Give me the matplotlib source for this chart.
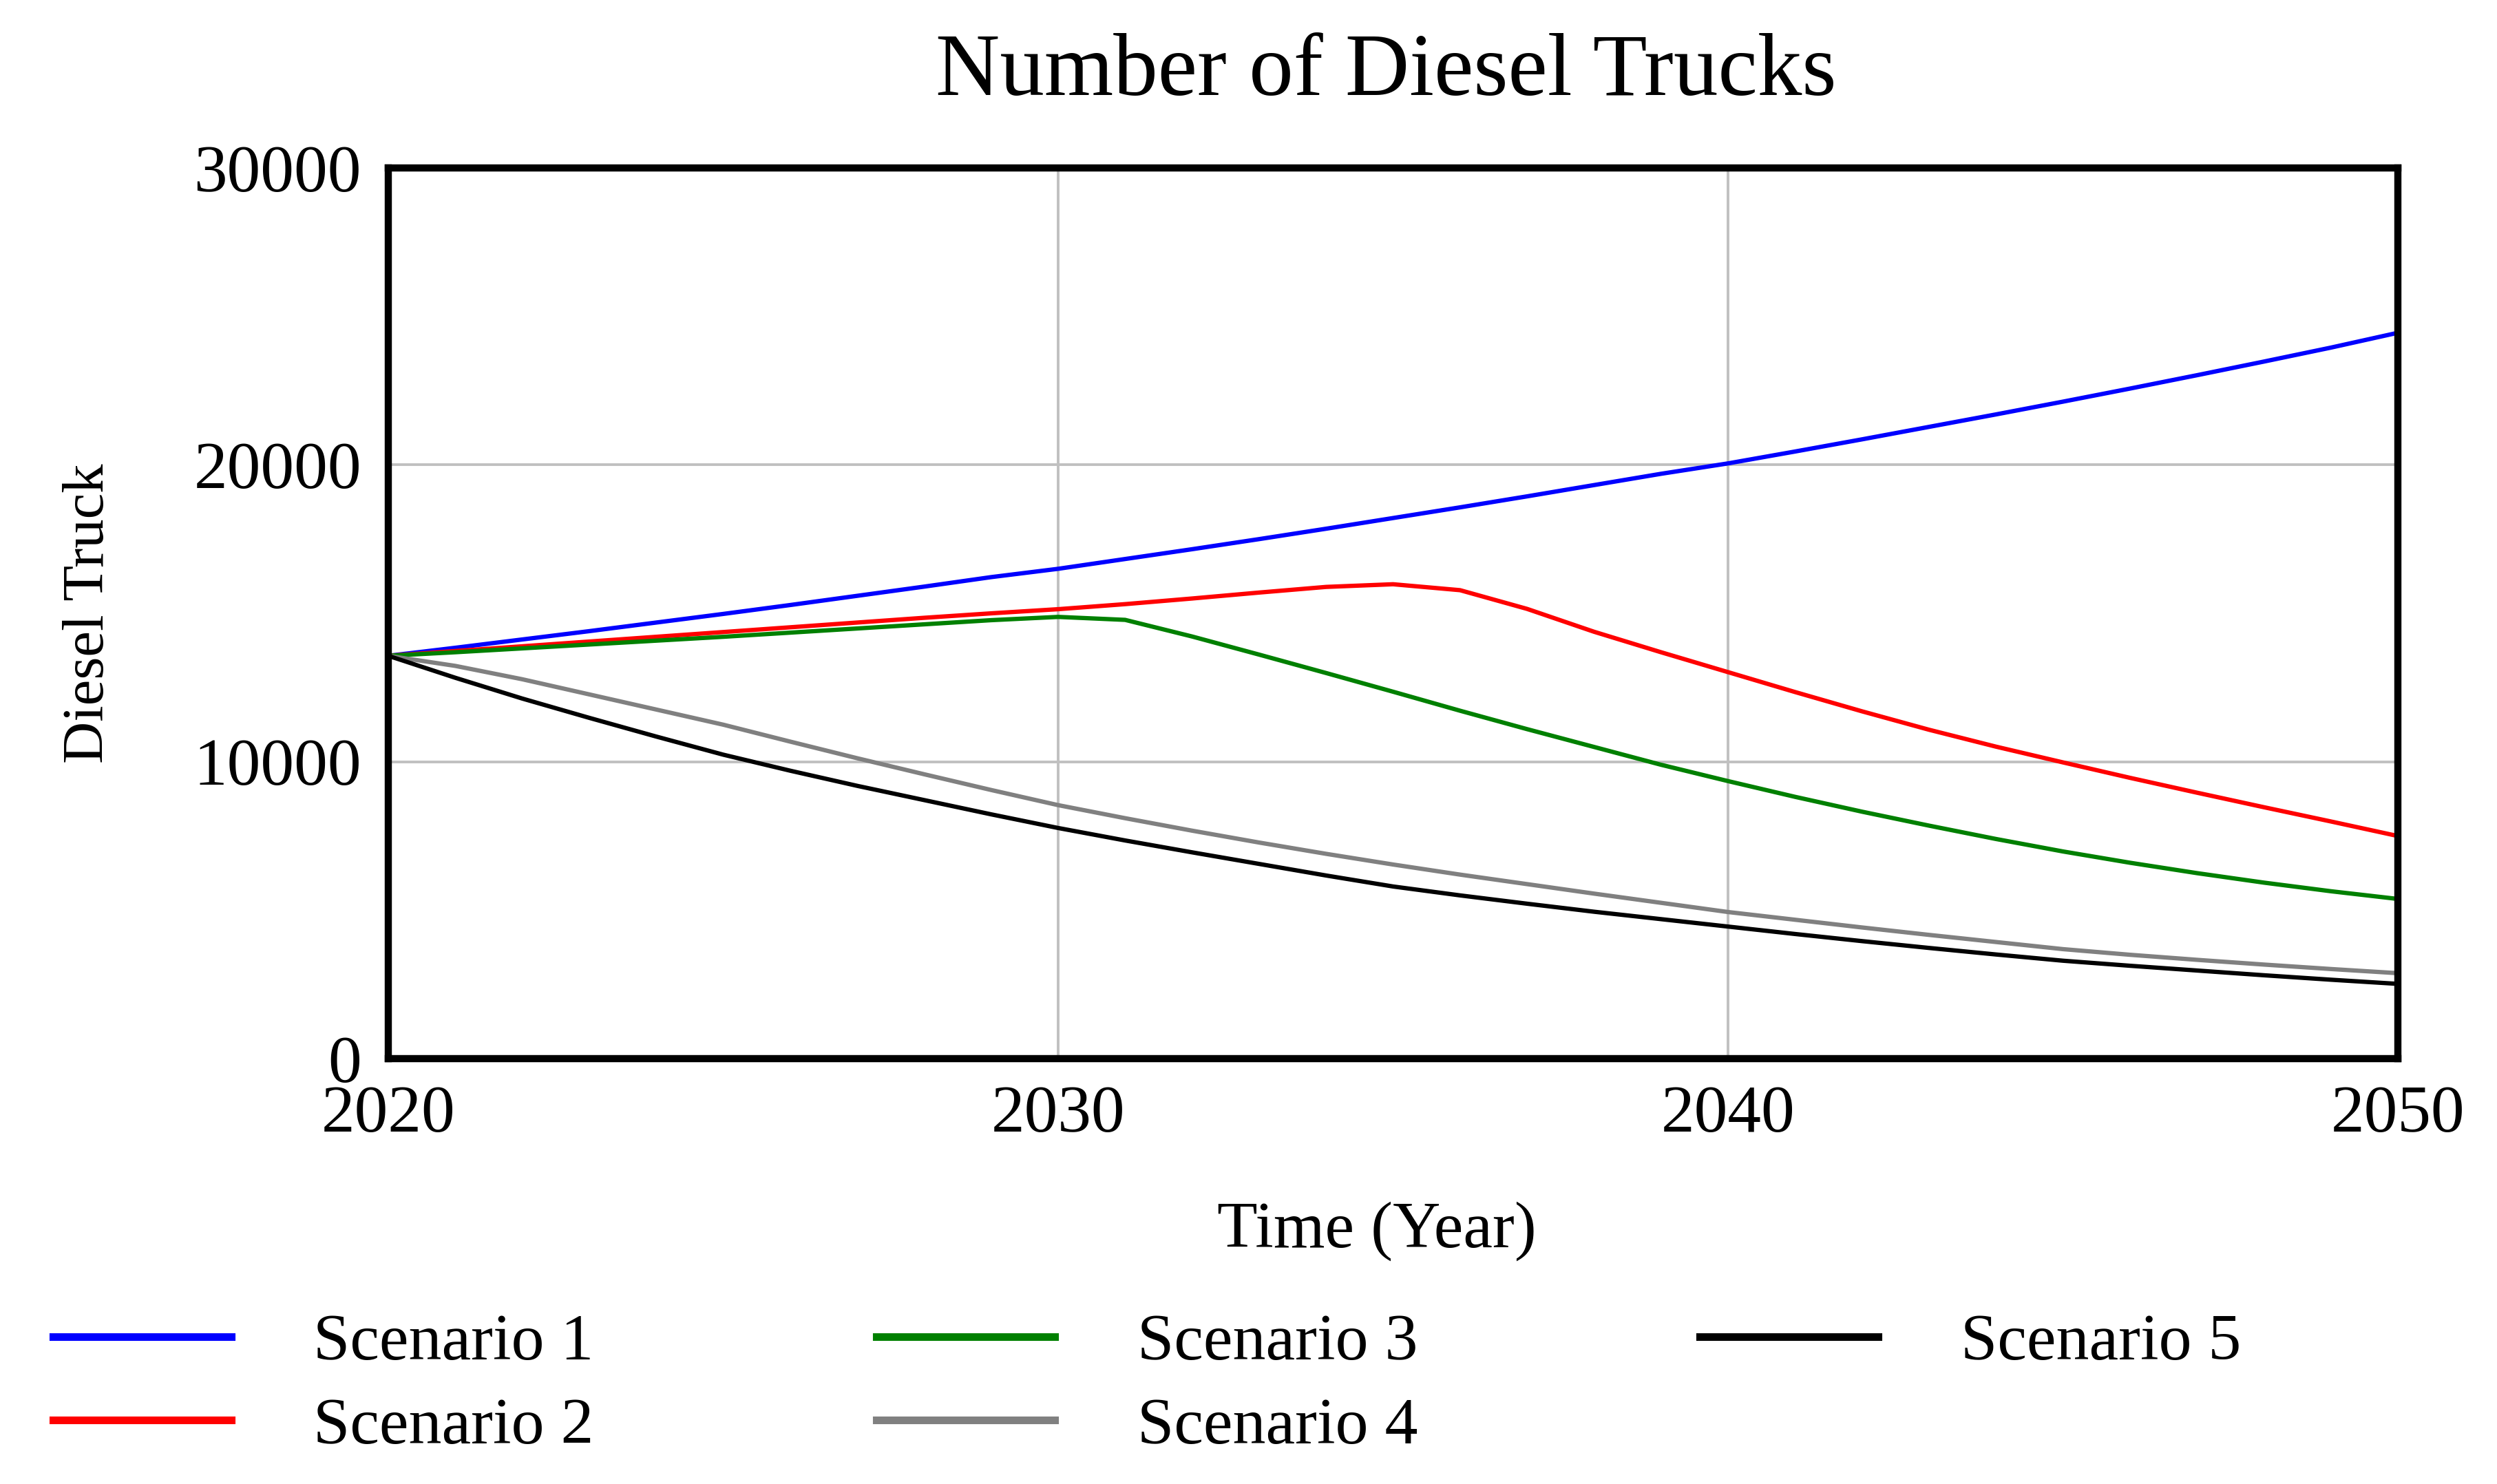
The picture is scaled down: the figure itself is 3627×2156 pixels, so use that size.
import matplotlib
matplotlib.use("Agg")
import matplotlib.pyplot as plt

plt.rcParams['font.family'] = ['Liberation Serif', 'DejaVu Serif']

years = list(range(2020, 2051))

# values (trucks)
scenario_1 = [13570, 13840, 14120, 14400, 14690, 14980, 15280, 15590, 15900, 16220,
              16500, 16830, 17160, 17500, 17850, 18210, 18570, 18940, 19320, 19700,
              20050, 20450, 20860, 21280, 21700, 22130, 22570, 23020, 23480, 23950,
              24450]
scenario_2 = [13570, 13730, 13890, 14050, 14210, 14370, 14530, 14690, 14850, 15000,
              15140, 15310, 15500, 15700, 15890, 15980, 15780, 15150, 14380, 13690,
              13020, 12350, 11700, 11080, 10510, 9980, 9460, 8960, 8470, 7990,
              7500]
scenario_3 = [13570, 13690, 13820, 13950, 14080, 14210, 14350, 14490, 14630, 14770,
              14880, 14780, 14220, 13610, 12990, 12360, 11720, 11100, 10500, 9900,
              9350, 8820, 8320, 7850, 7400, 6980, 6600, 6250, 5930, 5640,
              5380]
scenario_4 = [13570, 13230, 12780, 12270, 11760, 11250, 10680, 10120, 9580, 9050,
              8540, 8100, 7680, 7280, 6900, 6540, 6200, 5880, 5560, 5250,
              4940, 4680, 4420, 4170, 3930, 3690, 3500, 3330, 3170, 3020,
              2880]
scenario_5 = [13570, 12830, 12130, 11480, 10850, 10240, 9700, 9190, 8710, 8230,
              7770, 7350, 6950, 6560, 6170, 5800, 5500, 5220, 4950, 4700,
              4450, 4200, 3960, 3730, 3510, 3300, 3130, 2970, 2810, 2660,
              2520]

labels = ['Scenario 1', 'Scenario 2', 'Scenario 3', 'Scenario 4', 'Scenario 5']
colors = ['#0000ff', '#ff0000', '#008000', '#808080', '#000000']
series = [scenario_1, scenario_2, scenario_3, scenario_4, scenario_5]

x_ticks = [2020, 2030, 2040, 2050]
y_ticks = [0, 10000, 20000, 30000]

fig = plt.figure(figsize=(36.27, 21.56), dpi=100)
ax = fig.add_axes([0.1555, 0.2866, 0.8048, 0.6002])

for vals, lab, col in zip(series, labels, colors):
    ax.plot(years, vals, color=col, linewidth=4.5, label=lab)

ax.set_xlim(2020, 2050)
ax.set_ylim(0, 30000)
ax.set_xticks(x_ticks)
ax.set_yticks(y_ticks)
ax.grid(True, color='#c0c0c0', linewidth=2.8)
ax.set_axisbelow(True)
ax.tick_params(length=0, labelsize=70, pad=28)

for sp in ax.spines.values():
    sp.set_linewidth(7.5)
    sp.set_color('black')

ax.set_xlabel('Time (Year)', fontsize=69)
ax.xaxis.set_label_coords(0.492, -0.16)
ax.xaxis.label.set_va('top')

ax.set_ylabel('Diesel Truck', fontsize=61)
ax.yaxis.set_label_coords(-0.149, 0.5)
ax.yaxis.label.set_va('center')

fig.text(0.555, 0.936, 'Number of Diesel Trucks', fontsize=93,
         ha='center', va='baseline')

handles, labs = ax.get_legend_handles_labels()
leg = fig.legend(handles, labs, ncol=3, loc='upper left',
                 bbox_to_anchor=(0.0212, 0.115), frameon=False,
                 fontsize=69, handlelength=2.7, handletextpad=1.25,
                 columnspacing=4.28, labelspacing=0.36,
                 borderpad=0, borderaxespad=0)
for line in leg.get_lines():
    line.set_linewidth(8)

fig.savefig('out.png', dpi=100)
